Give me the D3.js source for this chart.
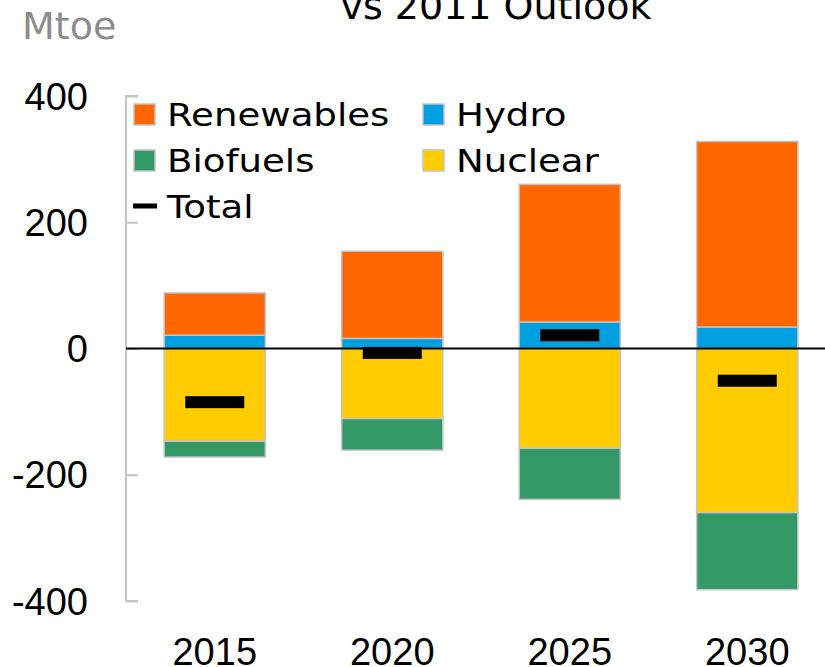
<!DOCTYPE html>
<html><head><meta charset="utf-8">
<script src="https://cdn.jsdelivr.net/npm/d3@7"></script>
<style>body{margin:0;background:#fff}svg{display:block}</style>
</head><body>
<svg id="c" width="825" height="667"></svg>
<script>
const years = ["2015","2020","2025","2030"];
const renewables = [67, 138, 218, 294];
const hydro = [21, 16, 42, 34];
const nuclear = [-147, -111, -158, -260];
const biofuels = [-25, -50, -81, -122];
const total = [-85, -7, 21, -51];
const yTicks = [400, 200, 0, -200, -400];
const seriesNames = ["Renewables","Hydro","Biofuels","Nuclear"];
const colors = {Renewables:"#FF6600", Hydro:"#009FE0", Biofuels:"#339966", Nuclear:"#FFCC00"};

const svg = d3.select("#c");
const x = d3.scaleBand().domain(years).range([126, 836]).paddingInner(0.43).paddingOuter(0.215);
const y = d3.scaleLinear().domain([-400, 400]).range([601, 96]);

const rows = years.map((yr,i)=>({year:yr, Renewables:renewables[i], Hydro:hydro[i], Nuclear:nuclear[i], Biofuels:biofuels[i]}));
const stack = d3.stack().keys(["Hydro","Renewables","Nuclear","Biofuels"]).offset(d3.stackOffsetDiverging);
const stacked = stack(rows);

// title (second line visible)
svg.append("text").attr("x", 496).attr("y", 19).attr("text-anchor","middle")
  .attr("font-family","DejaVu Sans").attr("font-size",38).attr("fill","#000").text("vs 2011 Outlook");
svg.append("text").attr("x", 22).attr("y", 39)
  .attr("font-family","DejaVu Sans").attr("font-size",38).attr("fill","#8c8c8c").text("Mtoe");

// bars
stacked.forEach(s=>{
  svg.append("g").selectAll("rect").data(s).join("rect")
    .attr("x", d=>x(d.data.year))
    .attr("width", x.bandwidth())
    .attr("y", d=>y(d[1]))
    .attr("height", d=>y(d[0])-y(d[1]))
    .attr("fill", colors[s.key])
    .attr("stroke","#c4c4c4").attr("stroke-width",1.5);
});

// y axis
const ax = svg.append("g").attr("transform","translate(126,0)")
  .call(d3.axisRight(y).tickValues(yTicks).tickSize(12).tickFormat(""));
ax.select(".domain").attr("stroke","#c4c4c4").attr("stroke-width",2).attr("d", `M12,${y(400)}H0V${y(-400)}H12`);
ax.selectAll(".tick line").attr("stroke","#c4c4c4").attr("stroke-width",2);
svg.append("g").selectAll("text").data(yTicks).join("text")
  .attr("x", 88).attr("y", d=>y(d)).attr("dy","0.36em").attr("text-anchor","end")
  .attr("font-family","Liberation Sans").attr("font-size",38).attr("fill","#000")
  .text(d=>d);

// zero line
svg.append("line").attr("x1",126).attr("x2",825).attr("y1",y(0)).attr("y2",y(0))
  .attr("stroke","#000").attr("stroke-width",2);

// totals
svg.append("g").selectAll("rect").data(years).join("rect")
  .attr("x", d=>x(d)+x.bandwidth()/2-29.5).attr("width",59)
  .attr("y", (d,i)=>y(total[i])-6).attr("height",12).attr("fill","#000");

// x labels
const xa = svg.append("g").attr("transform","translate(0,665)")
  .call(d3.axisBottom(x).tickSize(0).tickPadding(0));
xa.select(".domain").remove();
xa.selectAll("text").attr("dy",0).attr("font-family","Liberation Sans").attr("font-size",38).attr("fill","#000");

// legend
const legendItems = [
  {name:"Renewables", col:0, row:0},
  {name:"Hydro", col:1, row:0},
  {name:"Biofuels", col:0, row:1},
  {name:"Nuclear", col:1, row:1}
];
const colX = [134, 423];
const sx = 1.16;
const lg = svg.append("g");
function legText(tx, ty, label){
  lg.append("text").attr("transform",`translate(${tx},${ty}) scale(${sx},1)`)
    .attr("font-family","DejaVu Sans").attr("font-size",32)
    .attr("fill","#000").text(label);
}
legendItems.forEach(it=>{
  const bx = colX[it.col], by = 104 + it.row*46;
  lg.append("rect").attr("x",bx).attr("y",by).attr("width",21).attr("height",21)
    .attr("fill",colors[it.name]).attr("stroke","#c4c4c4").attr("stroke-width",1.5);
  legText(bx+33, by+22, it.name);
});
lg.append("rect").attr("x",133).attr("y",203.5).attr("width",24).attr("height",5).attr("fill","#000");
legText(167, 218, "Total");
</script>
</body></html>
